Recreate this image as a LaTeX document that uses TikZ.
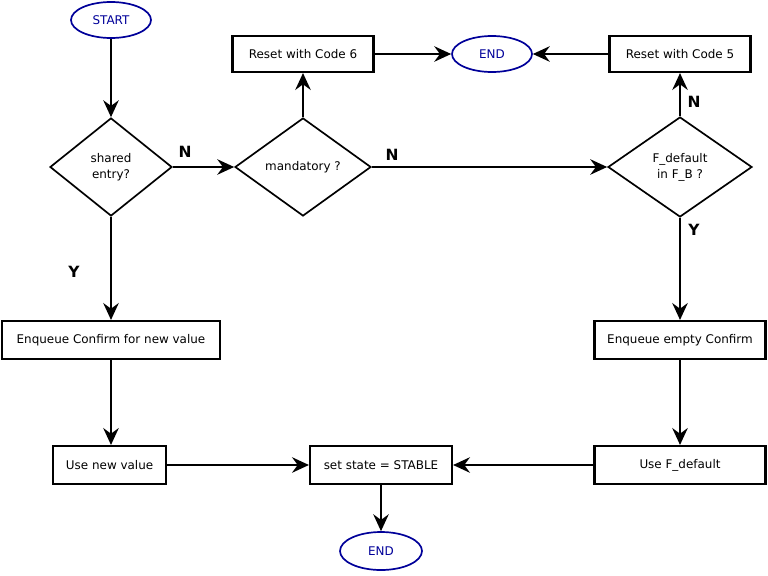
\documentclass[tikz,border=0pt]{standalone}
\usepackage{fontspec}
\setmainfont{DejaVu Sans}
\usetikzlibrary{arrows.meta, positioning, shapes.geometric}

\begin{document}
\begin{tikzpicture}[
    terminal/.style={ellipse, draw=blue!60!black, line width=1.2pt, text=blue!60!black,
        minimum width=2cm, minimum height=0.9cm, inner sep=0pt, font=\fontsize{8.5}{10}\selectfont},
    action/.style={rectangle, draw, line width=1.5pt, minimum height=0.95cm, inner sep=2pt,
        font=\fontsize{8.5}{10}\selectfont},
    decision/.style={diamond, draw, line width=1.2pt, minimum height=2.45cm, inner sep=0pt,
        align=center, font=\fontsize{8.5}{11.5}\selectfont},
    flow/.style={-{Stealth[length=12pt, width=11pt, inset=4pt]}, line width=1.5pt},
    answer/.style={font=\fontsize{11}{12}\selectfont\bfseries},
]
\useasboundingbox (0,0) rectangle (19.2,-14.375);

% Terminals
\node[terminal] (start) at (2.775,-0.5) {START};
\node[terminal] (endtop) at (12.3,-1.35) {END};
\node[terminal, minimum width=2.05cm, minimum height=0.95cm] (endbot) at (9.525,-13.775) {END};

% Decisions
\node[decision, minimum width=3.05cm] (shared) at (2.775,-4.175) {shared\\entry?};
\node[decision, minimum width=3.4cm] (mandatory) at (7.575,-4.175) {mandatory ?};
\node[decision, minimum width=3.6cm, minimum height=2.5cm] (indefault) at (17,-4.175) {F\_default\\in F\_B ?};

% Actions
\node[action, minimum width=3.525cm, minimum height=0.9cm] (reset6) at (7.575,-1.35) {Reset with Code 6};
\node[action, minimum width=3.525cm, minimum height=0.9cm] (reset5) at (17,-1.35) {Reset with Code 5};
\node[action, minimum width=5.45cm] (enqnew) at (2.775,-8.5) {Enqueue Confirm for new value};
\node[action, minimum width=4.275cm] (enqempty) at (17,-8.5) {Enqueue empty Confirm};
\node[action, minimum width=2.825cm] (usenew) at (2.74,-11.625) {Use new value};
\node[action, minimum width=3.55cm] (stable) at (9.525,-11.625) {set state = STABLE};
\node[action, minimum width=4.275cm] (usedef) at (17,-11.625) {Use F\_default};

% Answers
\node[answer] (n1) at (4.625,-3.8) {N};
\node[answer] (n2) at (9.8,-3.875) {N};
\node[answer] (n3) at (17.35,-2.55) {N};
\node[answer] (y1) at (17.35,-5.75) {Y};
\node[answer] (y2) at (1.85,-6.8) {Y};

% Connectors
\draw[flow] (start) -- (shared);
\draw[flow] (shared.east) -- (mandatory.west);
\draw[flow] (mandatory.east) -- (indefault.west);
\draw[flow] (mandatory.north) -- (reset6);
\draw[flow] (reset6) -- (endtop);
\draw[flow] (reset5) -- (endtop);
\draw[flow] (indefault.north) -- (reset5);
\draw[flow] (indefault.south) -- (enqempty);
\draw[flow] (shared.south) -- (enqnew);
\draw[flow] (enqnew) -- (usenew.north -| enqnew.south);
\draw[flow] (enqempty) -- (usedef);
\draw[flow] (usenew) -- (stable);
\draw[flow] (usedef) -- (stable);
\draw[flow] (stable) -- (endbot);

\end{tikzpicture}
\end{document}
